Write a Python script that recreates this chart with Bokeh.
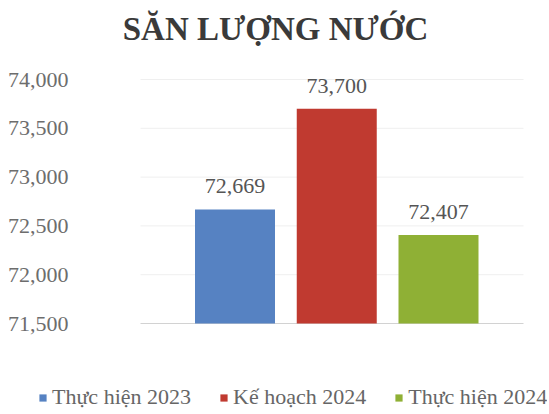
from bokeh.plotting import figure
from bokeh.models import (ColumnDataSource, FixedTicker, NumeralTickFormatter,
                          LabelSet, Label, Legend, LegendItem)
from bokeh.core.properties import value
from bokeh.embed import file_html
from bokeh.resources import INLINE

# ---- data ----
title_text = "SĂN LƯỢNG NƯỚC"
series = ["Thực hiện 2023", "Kế hoạch 2024", "Thực hiện 2024"]
values = [72669, 73700, 72407]
colors = ["#5682c2", "#c03a30", "#8fb035"]
y_ticks = [71500, 72000, 72500, 73000, 73500, 74000]
value_labels = ["72,669", "73,700", "72,407"]

FONT = "Liberation Serif"

# ---- layout constants (pixels) ----
W, H = 547, 412
PLOT_L, PLOT_R = 140, 523        # plot-area horizontal extent
PLOT_T, PLOT_B = 79, 323         # plot-area vertical extent (top/bottom ticks)
BAR0_C, BAR_STEP, BAR_W = 234.5, 101.75, 80

ppy = (PLOT_B - PLOT_T) / (y_ticks[-1] - y_ticks[0])
y_start = y_ticks[0] - (H - PLOT_B) / ppy
y_end = y_ticks[-1] + PLOT_T / ppy
x_start = -BAR0_C / BAR_STEP
x_end = x_start + W / BAR_STEP
x_lo = (PLOT_L - BAR0_C) / BAR_STEP
x_hi = (PLOT_R - BAR0_C) / BAR_STEP

source = ColumnDataSource(dict(
    x=list(range(len(series))),
    top=values,
    color=colors,
    series=series,
    label=value_labels,
))

p = figure(width=W, height=H, output_backend="svg", toolbar_location=None,
           title=None, x_range=(x_start, x_end), y_range=(y_start, y_end),
           x_axis_location=None,
           min_border_left=0, min_border_right=0,
           min_border_top=0, min_border_bottom=0)
p.outline_line_color = None
p.background_fill_color = "white"
p.border_fill_color = "white"

# grid lines across the plot area
grid_src = ColumnDataSource(dict(y=y_ticks[1:]))
p.segment(x0=x_lo, x1=x_hi, y0="y", y1="y", source=grid_src,
          line_color="#efefef", line_width=1)
p.segment(x0=x_lo, x1=x_hi, y0=y_ticks[0], y1=y_ticks[0],
          line_color="#d2d2d2", line_width=1)

r = p.vbar(x="x", top="top", bottom=y_ticks[0], width=BAR_W / BAR_STEP,
           color="color", line_color=None, source=source)

# y axis (labels drawn inside the canvas)
yax = p.yaxis[0]
yax.ticker = FixedTicker(ticks=y_ticks)
yax.formatter = NumeralTickFormatter(format="0,0")
yax.axis_line_color = None
yax.major_tick_line_color = None
yax.major_tick_out = 0
yax.major_tick_in = 0
yax.minor_tick_line_color = None
yax.minor_tick_out = 0
yax.minor_tick_in = 0
yax.major_label_standoff = -68
yax.major_label_text_font = FONT
yax.major_label_text_font_size = "22px"
yax.major_label_text_color = "#6d6d6d"
p.grid.visible = False

# value labels
p.add_layout(LabelSet(x="x", y="top", text="label", source=source,
                      y_offset=16, text_align="center", text_baseline="alphabetic",
                      text_font=value(FONT), text_font_size="22px",
                      text_color="#555555"))

# title
p.add_layout(Label(x=275, y=H - 28, x_units="screen", y_units="screen",
                   text=title_text, text_align="center",
                   text_baseline="alphabetic", text_font=FONT,
                   text_font_style="bold", text_font_size="33px",
                   text_color="#3a3a3a"))

# legend
items = [LegendItem(label=s, renderers=[r], index=i) for i, s in enumerate(series)]
legend = Legend(items=items, location=(38, 2), orientation="horizontal",
                label_text_font=FONT, label_text_font_size="22px",
                label_text_color="#666666",
                glyph_width=9, glyph_height=9, label_standoff=5, spacing=28,
                padding=0, margin=0, border_line_color=None,
                background_fill_alpha=0)
p.add_layout(legend)

open("out.html", "w").write(file_html(p, INLINE))
